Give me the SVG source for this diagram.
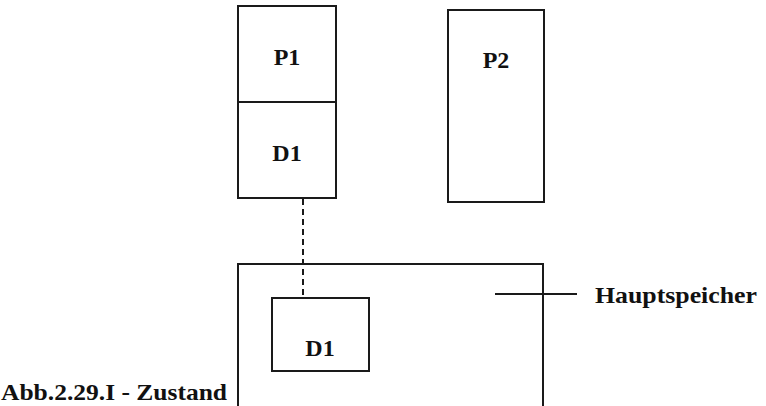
<svg xmlns="http://www.w3.org/2000/svg" width="766" height="406" viewBox="0 0 766 406">
<style>
.box{fill:none;stroke:#1a1a1a;stroke-width:2}
.lbl{font-family:"Liberation Serif","Times New Roman",serif;font-weight:bold;font-size:24px;fill:#111}
.ln{stroke:#1a1a1a;stroke-width:2;fill:none}
</style>
<rect width="766" height="406" fill="#fff"/>
<g id="P1">
<rect class="box" x="238" y="6" width="98" height="192"/>
<line class="ln" x1="238" y1="102" x2="336" y2="102"/>
<text class="lbl" x="287" y="65" text-anchor="middle">P1</text>
<text class="lbl" x="287" y="161" text-anchor="middle">D1</text>
</g>
<g id="P2">
<rect class="box" x="448" y="10" width="96" height="192"/>
<text class="lbl" x="496" y="68" text-anchor="middle">P2</text>
</g>
<g id="Hauptspeicher">
<rect class="box" x="238" y="264" width="305" height="160"/>
</g>
<g id="D1mem">
<rect class="box" x="272" y="298" width="97" height="73"/>
<text class="lbl" x="320" y="356" text-anchor="middle">D1</text>
</g>
<g id="connectors">
<line class="ln" x1="303" y1="199" x2="303" y2="297" stroke-dasharray="6,4"/>
<line class="ln" x1="495" y1="294" x2="577" y2="294"/>
</g>
<g id="labels">
<text class="lbl" x="595" y="303" textLength="162" lengthAdjust="spacingAndGlyphs">Hauptspeicher</text>
<text class="lbl" x="1" y="400" textLength="226" lengthAdjust="spacingAndGlyphs">Abb.2.29.I - Zustand</text>
</g>
</svg>
